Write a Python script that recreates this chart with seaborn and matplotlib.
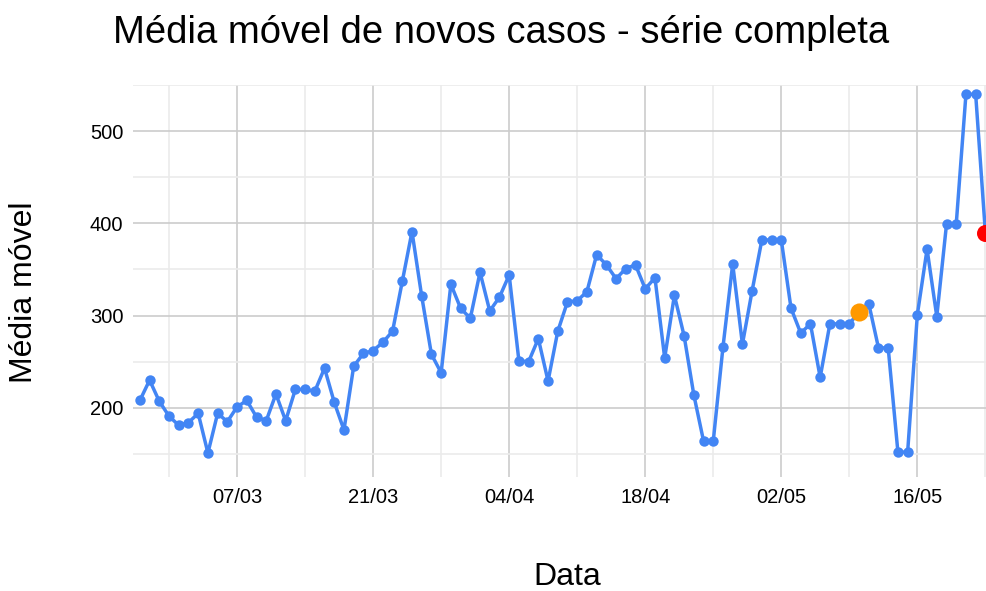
import matplotlib
matplotlib.use("Agg")
import matplotlib.pyplot as plt
import matplotlib.dates as mdates
import seaborn as sns
import numpy as np
import pandas as pd

# Daily moving average, 26/02/2020 .. 23/05/2020
start_date = "2020-02-26"
media_movel = [
    208, 230, 207, 191, 181, 184, 194, 151, 194, 185,
    201, 208, 190, 186, 215, 186, 220, 220, 218, 243,
    206, 176, 245, 259, 262, 271, 283, 337, 391, 321,
    258, 238, 334, 308, 297, 347, 305, 320, 344, 251,
    250, 275, 229, 283, 315, 316, 326, 366, 355, 340,
    351, 355, 329, 341, 254, 322, 278, 214, 164, 164,
    266, 356, 269, 327, 382, 382, 382, 308, 281, 291,
    233, 291, 291, 291, 304, 313, 265, 265, 152, 152,
    301, 372, 299, 399, 399, 540, 540, 390,
]
destaque_laranja = "2020-05-10"
destaque_vermelho = "2020-05-23"

df = pd.DataFrame({
    "Data": pd.date_range(start_date, periods=len(media_movel), freq="D"),
    "Média móvel": media_movel,
})

sns.set_theme(style="white")
plt.rcParams["font.family"] = ["Liberation Sans", "DejaVu Sans"]
plt.rcParams["text.color"] = "black"
plt.rcParams["xtick.color"] = "black"
plt.rcParams["ytick.color"] = "black"

fig = plt.figure(figsize=(9.87, 5.91), dpi=100)
ax = fig.add_axes([133 / 987, 1 - 477 / 591, 854 / 987, 392 / 591])

sns.lineplot(data=df, x="Data", y="Média móvel", ax=ax, color="#4285F4",
             linewidth=2.5, marker="o", markersize=7.5, markeredgewidth=0,
             zorder=3, clip_on=False)

pt_o = df[df["Data"] == destaque_laranja]
pt_r = df[df["Data"] == destaque_vermelho]
sns.scatterplot(data=pt_o, x="Data", y="Média móvel", ax=ax, color="#FF9900",
                s=170, linewidth=0, zorder=4, clip_on=False)
sns.scatterplot(data=pt_r, x="Data", y="Média móvel", ax=ax, color="#FF0000",
                s=150, linewidth=0, zorder=4, clip_on=False)

ax.set_xlim(pd.Timestamp("2020-02-25 07:00"), pd.Timestamp("2020-05-23 04:00"))
ax.set_ylim(125, 550)

major_days = pd.date_range("2020-03-07", "2020-05-20", freq="14D")
minor_days = pd.date_range("2020-02-29", "2020-05-23", freq="7D")
ax.set_xticks(major_days)
ax.set_xticks(minor_days, minor=True)
ax.xaxis.set_major_formatter(mdates.DateFormatter("%d/%m"))
ax.set_yticks([200, 300, 400, 500])
ax.set_yticks([150, 250, 350, 450, 550], minor=True)

ax.grid(which="major", color="#cccccc", linewidth=1.2)
ax.grid(which="minor", color="#ebebeb", linewidth=1.2)
ax.set_axisbelow(True)
for s in ax.spines.values():
    s.set_visible(False)
ax.tick_params(which="both", length=0)
ax.tick_params(axis="x", labelsize=14.5, pad=8)
ax.tick_params(axis="y", labelsize=14.5, pad=7)

ax.set_xlabel("")
ax.set_ylabel("")
fig.text(567 / 987, 1 - 585 / 591, "Data", fontsize=23, ha="center", va="baseline")
fig.text(24 / 987, 1 - 292 / 591, "Média móvel", fontsize=23, rotation=90,
         ha="center", va="center")
fig.text(501 / 987, 1 - 43 / 591, "Média móvel de novos casos - série completa",
         fontsize=27.5, ha="center", va="baseline")

fig.savefig("out.png", dpi=100)
